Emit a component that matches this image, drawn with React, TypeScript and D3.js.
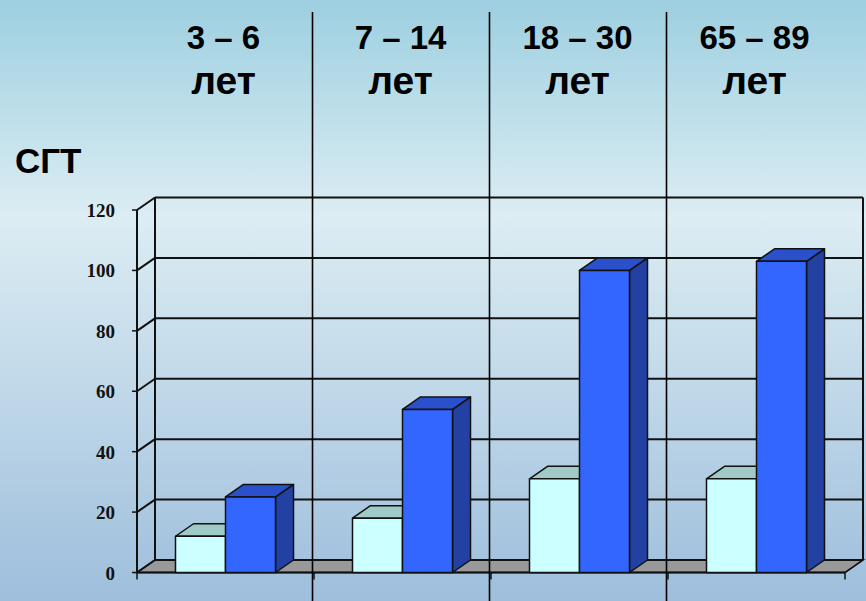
import React from "react";
import * as d3 from "d3";

// Age groups, shown as column headers above the plot
const groupTop = ["3 – 6", "7 – 14", "18 – 30", "65 – 89"];
const groupBottom = ["лет", "лет", "лет", "лет"];
const categories = ["g1", "g2", "g3", "g4"];

// Two series per age group
const seriesKeys = ["light", "dark"];
const lightValues = [12, 18, 31, 31];
const darkValues = [25, 54, 100, 103];

const yTicks = [0, 20, 40, 60, 80, 100, 120];
const yLabel = "СГТ";

const W = 866;
const H = 601;

// 3D projection offset of the depth axis
const DX = 18;
const DY = -12.5;

const faces: Record<string, { front: string; top: string; side: string }> = {
  light: { front: "#ccffff", top: "#9fcac8", side: "#8fb8b8" },
  dark: { front: "#3366ff", top: "#2a50cc", side: "#2241a3" },
};

export default function App() {
  const x0 = d3.scaleBand<string>().domain(categories).range([137, 845]).padding(0);
  const x1 = d3
    .scaleBand<string>()
    .domain(seriesKeys)
    .range([38.5, x0.bandwidth() - 38.5])
    .padding(0);
  const y = d3.scaleLinear().domain([0, 120]).range([572.5, 210]);

  const xl = x0.range()[0];
  const xr = x0.range()[1];
  const y0 = y(0);
  const yTop = y(120);

  const rows = categories.map((c, i) => ({
    c,
    vals: { light: lightValues[i], dark: darkValues[i] } as Record<string, number>,
    top: groupTop[i],
    bottom: groupBottom[i],
  }));

  const pts = (p: [number, number][]) => p.map((q) => q.join(",")).join(" ");
  const stroke = "#111";

  return (
    <div style={{ position: "fixed", left: 0, top: 0 }}>
      <svg width={W} height={H} style={{ display: "block" }}>
        <defs>
          <linearGradient id="bg" x1="0" y1="0" x2="0" y2="1">
            <stop offset="0" stopColor="#9dcfe0" />
            <stop offset="0.36" stopColor="#dcedf3" />
            <stop offset="1" stopColor="#9ebedc" />
          </linearGradient>
        </defs>
        <rect x={0} y={0} width={W} height={H} fill="url(#bg)" />

        {/* floor */}
        <polygon
          points={pts([
            [xl, y0],
            [xr, y0],
            [xr + DX, y0 + DY],
            [xl + DX, y0 + DY],
          ])}
          fill="#999999"
          stroke={stroke}
          strokeWidth={1.5}
        />

        {/* back wall gridlines and left wall diagonals */}
        {yTicks.map((t) => (
          <g key={t}>
            <line
              x1={xl + DX}
              x2={xr + DX}
              y1={y(t) + DY}
              y2={y(t) + DY}
              stroke={stroke}
              strokeWidth={2}
            />
            <line
              x1={xl}
              x2={xl + DX}
              y1={y(t)}
              y2={y(t) + DY}
              stroke={stroke}
              strokeWidth={2}
            />
            <line x1={xl - 5} x2={xl} y1={y(t)} y2={y(t)} stroke={stroke} strokeWidth={1.5} />
            <text
              x={115}
              y={y(t) + 7}
              textAnchor="end"
              fontFamily="'Liberation Serif', 'Times New Roman', serif"
              fontWeight="bold"
              fontSize={19}
              fill="#111"
            >
              {t}
            </text>
          </g>
        ))}
        {/* wall edges */}
        <line x1={xl} x2={xl} y1={yTop} y2={y0} stroke={stroke} strokeWidth={2} />
        <line x1={xl + DX} x2={xl + DX} y1={yTop + DY} y2={y0 + DY} stroke={stroke} strokeWidth={2} />
        <line x1={xr + DX} x2={xr + DX} y1={yTop + DY} y2={y0 + DY} stroke={stroke} strokeWidth={2} />
        <line x1={xr} x2={xr + DX} y1={y0} y2={y0 + DY} stroke={stroke} strokeWidth={1.5} />
        <line x1={xl} x2={xr} y1={y0} y2={y0} stroke={stroke} strokeWidth={2} />

        {/* category ticks on the floor edge */}
        {[...categories.map((c) => x0(c) as number), xr].map((xx, i) => (
          <line key={i} x1={xx} x2={xx} y1={y0} y2={y0 + 7} stroke={stroke} strokeWidth={1.5} />
        ))}

        {/* column separators */}
        {categories.slice(1).map((c) => {
          const xx = (x0(c) as number) - 1.5;
          return <line key={c} x1={xx} x2={xx} y1={12} y2={H} stroke="#000" strokeWidth={1.6} />;
        })}

        {/* bars */}
        {rows.map((r) =>
          seriesKeys.map((k) => {
            const bx = (x0(r.c) as number) + (x1(k) as number);
            const bw = x1.bandwidth();
            const by = y(r.vals[k]);
            const f = faces[k];
            return (
              <g key={r.c + k} stroke={stroke} strokeWidth={1.5} strokeLinejoin="round">
                <polygon
                  points={pts([
                    [bx + bw, by],
                    [bx + bw + DX, by + DY],
                    [bx + bw + DX, y0 + DY],
                    [bx + bw, y0],
                  ])}
                  fill={f.side}
                />
                <polygon
                  points={pts([
                    [bx, by],
                    [bx + DX, by + DY],
                    [bx + bw + DX, by + DY],
                    [bx + bw, by],
                  ])}
                  fill={f.top}
                />
                <rect x={bx} y={by} width={bw} height={y0 - by} fill={f.front} />
              </g>
            );
          })
        )}

        {/* column headers */}
        {rows.map((r) => {
          const cx = (x0(r.c) as number) + x0.bandwidth() / 2 - 2;
          return (
            <g
              key={r.c + "h"}
              fontFamily="'Liberation Sans', Arial, sans-serif"
              fontWeight="bold"
              textAnchor="middle"
              fill="#000"
            >
              <text x={cx} y={49} fontSize={33}>
                {r.top}
              </text>
              <text x={cx} y={94} fontSize={39}>
                {r.bottom}
              </text>
            </g>
          );
        })}

        <text
          x={15}
          y={173}
          fontFamily="'Liberation Sans', Arial, sans-serif"
          fontWeight="bold"
          fontSize={35}
          fill="#000"
        >
          {yLabel}
        </text>
      </svg>
    </div>
  );
}
